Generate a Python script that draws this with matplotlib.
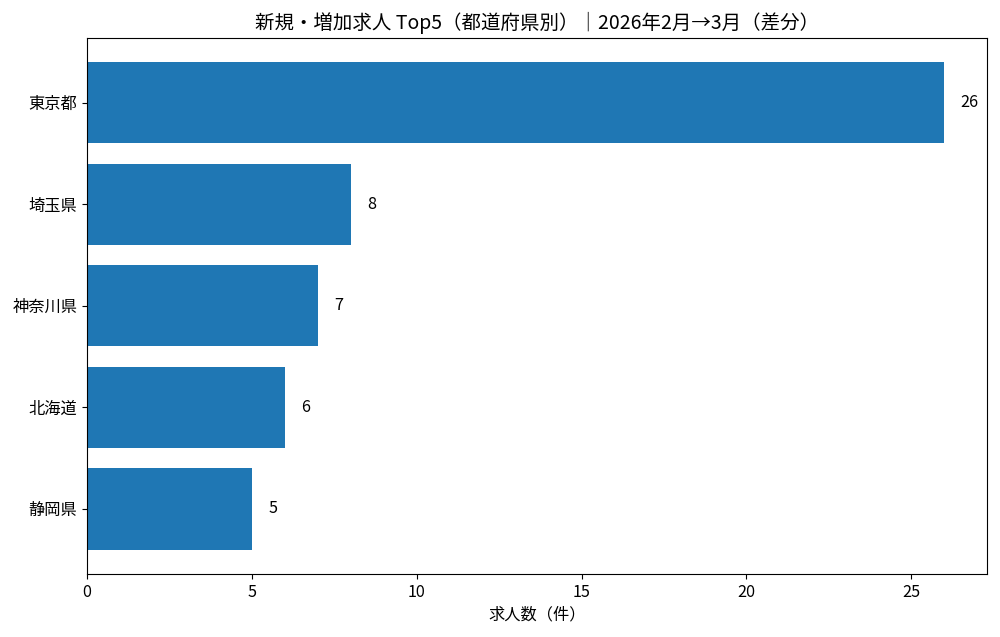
import matplotlib
matplotlib.use("Agg")
import matplotlib.pyplot as plt

plt.rcParams['font.family'] = ['Noto Sans CJK JP', 'DejaVu Sans']
plt.rcParams['font.size'] = 11.7

prefectures = ["東京都", "埼玉県", "神奈川県", "北海道", "静岡県"]
counts = [26, 8, 7, 6, 5]
title = "新規・増加求人 Top5（都道府県別）｜2026年2月→3月（差分）"
xlabel = "求人数（件）"

fig, ax = plt.subplots(figsize=(10, 6.37), dpi=100)
y = list(range(len(prefectures)))
ax.barh(y, counts, color="#1f77b4", height=0.8)
ax.set_yticks(y)
ax.set_yticklabels(prefectures)
ax.invert_yaxis()
for yi, v in zip(y, counts):
    ax.text(v + 0.5, yi, str(v), ha="left", va="center", fontsize=11.7)
ax.set_title(title, fontsize=14)
ax.set_xlabel(xlabel)
ax.tick_params(labelsize=11.7)
fig.subplots_adjust(left=0.087, right=0.987, top=0.941, bottom=0.099)
fig.savefig("out.png", dpi=100)
